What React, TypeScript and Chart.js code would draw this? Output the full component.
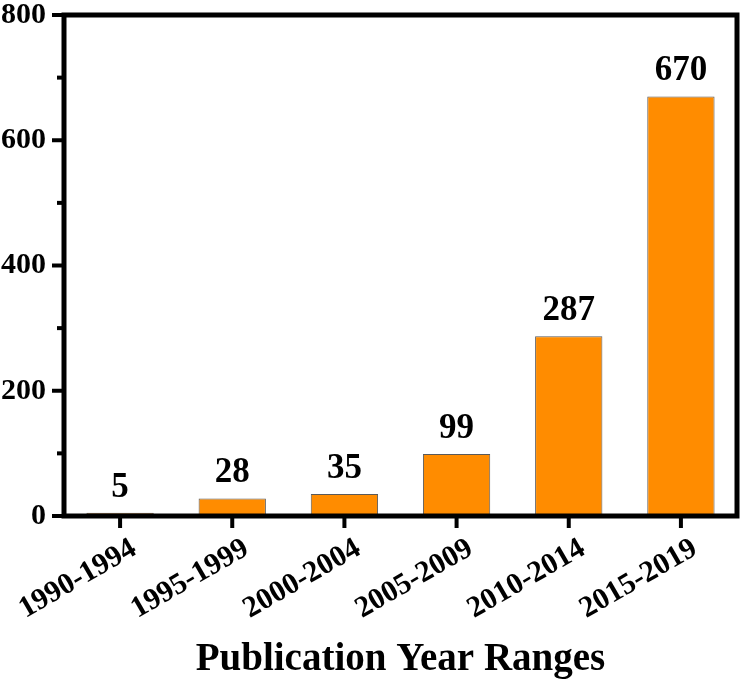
import React, { useEffect, useRef } from "react";
import { Chart, registerables } from "chart.js";

Chart.register(...registerables);

const categories = ["1990-1994", "1995-1999", "2000-2004", "2005-2009", "2010-2014", "2015-2019"];
const publications = [5, 28, 35, 99, 287, 670];
const yMajorTicks = [0, 200, 400, 600, 800];
const yMinorTicks = [100, 300, 500, 700];
const xTitle = "Publication Year Ranges";

const SERIF = "'Liberation Serif', 'Times New Roman', Times, serif";

const framePlugin = {
  id: "frameAndTicks",
  afterDatasetsDraw(chart: any) {
    const { ctx, chartArea, scales } = chart;
    const { left, right, top, bottom } = chartArea;
    ctx.save();
    ctx.strokeStyle = "#000";
    ctx.lineCap = "butt";
    ctx.lineWidth = 4;
    yMajorTicks.forEach((v) => {
      const y = scales.y.getPixelForValue(v);
      ctx.beginPath();
      ctx.moveTo(left - 12, y);
      ctx.lineTo(left, y);
      ctx.stroke();
    });
    yMinorTicks.forEach((v) => {
      const y = scales.y.getPixelForValue(v);
      ctx.beginPath();
      ctx.moveTo(left - 7, y);
      ctx.lineTo(left, y);
      ctx.stroke();
    });
    categories.forEach((_, i) => {
      const x = scales.x.getPixelForTick(i);
      ctx.beginPath();
      ctx.moveTo(x, bottom);
      ctx.lineTo(x, bottom + 12);
      ctx.stroke();
    });
    ctx.lineWidth = 5;
    ctx.lineJoin = "miter";
    ctx.strokeRect(left, top, right - left, bottom - top);
    ctx.fillStyle = "#000";
    ctx.font = `bold 35px ${SERIF}`;
    ctx.textAlign = "center";
    ctx.textBaseline = "alphabetic";
    const meta = chart.getDatasetMeta(0);
    meta.data.forEach((bar: any, i: number) => {
      ctx.fillText(String(publications[i]), bar.x, bar.y - 16);
    });
    ctx.restore();
  },
};

export default function App() {
  const ref = useRef<HTMLCanvasElement>(null);
  useEffect(() => {
    if (!ref.current) return;
    const chart = new Chart(ref.current, {
      type: "bar",
      data: {
        labels: categories,
        datasets: [
          {
            data: publications,
            backgroundColor: "#FF8C00",
            borderColor: "#5a5a5a",
            borderWidth: 1,
            barPercentage: 0.6,
            categoryPercentage: 1,
          },
        ],
      },
      options: {
        responsive: false,
        animation: false,
        devicePixelRatio: 1,
        layout: { padding: { top: 15, right: 5, left: 0, bottom: 0 } },
        plugins: { legend: { display: false }, tooltip: { enabled: false } },
        scales: {
          x: {
            grid: { display: false, drawTicks: false },
            border: { display: false },
            ticks: {
              color: "#000",
              font: { family: SERIF, size: 30, weight: "bold" },
              minRotation: 30,
              maxRotation: 30,
              padding: 15,
              labelOffset: 14,
            },
            title: {
              display: true,
              text: xTitle,
              color: "#000",
              font: { family: SERIF, size: 39, weight: "bold", lineHeight: 1.13 },
              padding: 0,
            },
            afterFit: (s: any) => {
              s.height = 166;
              s.paddingLeft = 0;
              s.paddingRight = 0;
            },
          },
          y: {
            min: 0,
            max: 800,
            grid: { display: false, drawTicks: false },
            border: { display: false },
            ticks: {
              stepSize: 200,
              color: "#000",
              font: { family: SERIF, size: 30, weight: "bold" },
              padding: 18,
            },
            afterFit: (s: any) => {
              s.width = 64;
              s.paddingTop = 0;
              s.paddingBottom = 0;
            },
          },
        },
      },
      plugins: [framePlugin],
    });
    return () => chart.destroy();
  }, []);
  return (
    <div style={{ position: "fixed", left: 0, top: 0, width: 742, height: 682, background: "#fff" }}>
      <canvas ref={ref} width={742} height={682} />
    </div>
  );
}
